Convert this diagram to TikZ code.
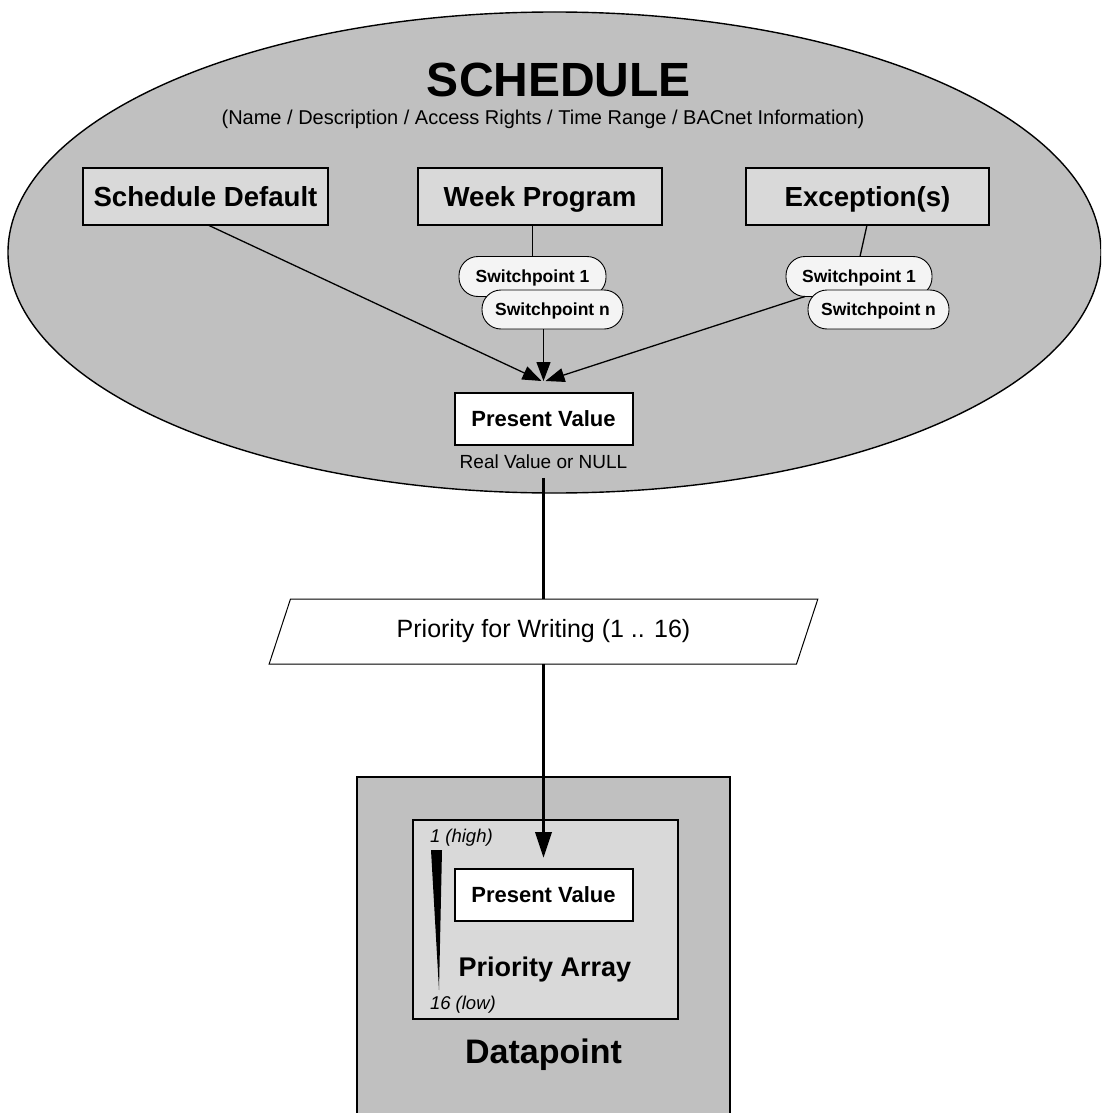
\documentclass[tikz,border=0pt]{standalone}
\usepackage{fontspec}
\setmainfont{Liberation Sans}
\usetikzlibrary{arrows.meta,shapes.geometric,calc}
\definecolor{shade}{HTML}{C0C0C0}
\definecolor{panel}{HTML}{D9D9D9}
\definecolor{pill}{HTML}{F4F4F4}
\newcommand\fsz[1]{\fontsize{#1}{#1}\selectfont}

\begin{document}
\begin{tikzpicture}[x=1pt,y=-1pt,
  every node/.style={inner sep=0pt, outer sep=0pt},
  headline/.style={font=\bfseries\fsz{48}, text height=34.5pt, text depth=0pt},
  subline/.style={font=\fsz{20}},
  objbox/.style={draw, line width=2pt, fill=panel, font=\bfseries\fsz{27.6}, text height=19.8pt, text depth=0pt, minimum height=57pt},
  valbox/.style={draw, line width=2pt, fill=white, font=\bfseries\fsz{22}, text height=15.8pt, text depth=0pt, minimum width=178pt, minimum height=52pt},
  swpt/.style={draw, line width=0.9pt, fill=pill, rounded corners=19pt, font=\bfseries\fsz{17.5}, text height=12.6pt, text depth=0pt, minimum height=40pt},
  note/.style={font=\fsz{19}},
  prionote/.style={font=\itshape\fsz{18.5}, anchor=west},
  link/.style={line width=1.3pt},
  feed/.style={line width=1.3pt, -{Triangle[length=19pt,width=14pt]}},
  heavy/.style={line width=3.8pt},
]
\useasboundingbox (0,0) rectangle (1101,1113);
\clip (0,0) rectangle (1101,1113);

% schedule object
\draw[fill=shade, line width=1.4pt] (554.5,252.5) ellipse [x radius=546.5pt, y radius=240.5pt];
\node[headline] (title) at (559,79) {SCHEDULE};
\node[subline] (props) at (543,119) {(Name / Description / Access Rights / Time Range / BACnet Information)};

\node[objbox, minimum width=245pt] (sd) at (205.5,196.5) {Schedule Default};
\node[objbox, minimum width=244pt] (wp) at (540,196.5) {Week Program};
\node[objbox, minimum width=243pt] (ex) at (867.5,196.5) {Exception(s)};

\node[swpt, minimum width=147pt] (wsa) at (532.5,276.5) {Switchpoint 1};
\node[swpt, minimum width=141pt, minimum height=39pt] (wsn) at (552.5,309.5) {Switchpoint n};
\node[swpt, minimum width=146pt] (esa) at (859,276.5) {Switchpoint 1};
\node[swpt, minimum width=141pt, minimum height=39pt] (esn) at (878.5,309.5) {Switchpoint n};

\node[valbox] (pv) at (543.5,419) {Present Value};
\node[note] (rv) at (543.5,462) {Real Value or NULL};
\coordinate (join) at ($(pv.north)+(0,-12)$);

\draw[link] (wp.south -| wsa.north) -- (wsa.north);
\draw[link] ([xshift=-0.5pt]ex.south) -- ([xshift=1pt]esa.north);
\draw[feed] ([xshift=2.5pt]sd.south) -- ([xshift=-2pt]join);
\draw[feed] (wsn.south -| join) -- (join);
\draw[feed] ([xshift=-54pt]esa.south) -- ([xshift=2pt]join);

% write priority
\node[draw, line width=1pt, fill=white, trapezium, trapezium left angle=62, trapezium right angle=118,
      trapezium stretches=true, minimum width=551pt, minimum height=65pt, font=\fsz{25}]
      (pw) at (543.5,631.5) {Priority for Writing (1 .. 16)};

% datapoint object
\draw[fill=shade, line width=2pt] (357,777) rectangle (730,1130);
\node[draw, line width=2pt, fill=panel, minimum width=265pt, minimum height=199pt] (pa) at (545.5,919.5) {};
\node[valbox] (pv2) at (543.5,895) {Present Value};
\node[font=\bfseries\fsz{27}] (palabel) at (545,970) {Priority Array};
\node[font=\bfseries\fsz{34}] (dp) at (543.5,1055) {Datapoint};
\node[prionote] (hi) at (430,838) {1 (high)};
\node[prionote] (lo) at (430,1005) {16 (low)};
\fill (431,850) -- (442,850) -- (439,990) -- cycle;

\draw[heavy] ([yshift=-9pt]rv.south) -- (rv.south |- pw.north);
\draw[heavy, -{Triangle[length=26pt,width=16pt]}] (pw.south -| pv2.north) -- ([yshift=11pt]pv2.north);
\end{tikzpicture}
\end{document}
